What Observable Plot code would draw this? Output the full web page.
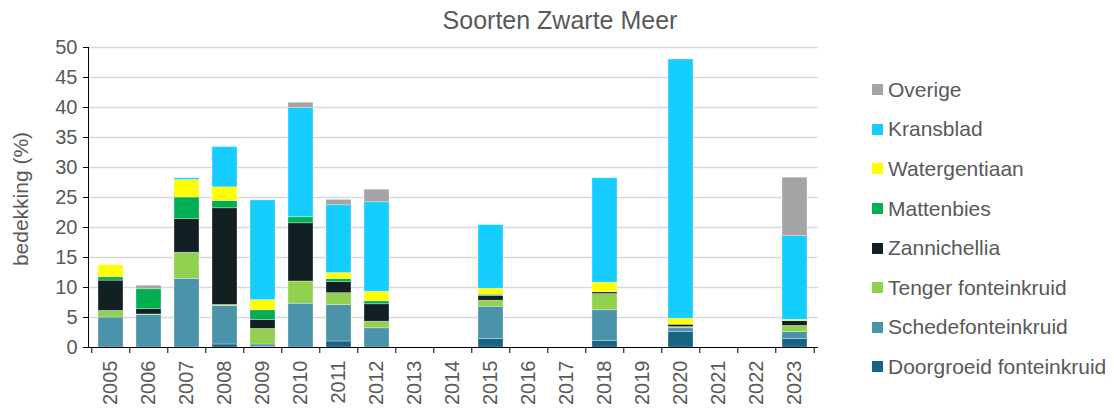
<!DOCTYPE html>
<html>
<head>
<meta charset="utf-8">
<script src="https://cdn.jsdelivr.net/npm/d3@7"></script>
<script src="https://cdn.jsdelivr.net/npm/@observablehq/plot@0.6"></script>
<style>
  body { margin: 0; background: white; font-family: "Liberation Sans", Arial, sans-serif; }
  #title { width: 1114px; height: 36px; line-height: 40px; text-align: center; font-size: 25px; color: #595959; padding-left: 6px; box-sizing: border-box; }
  #wrap { display: flex; flex-direction: row; width: 1114px; height: 373px; }
  #chart { width: 840px; }
  #legend { margin-left: 32px; padding-top: 34px; }
  .item { height: 39.6px; display: flex; align-items: center; font-size: 21px; color: #595959; white-space: nowrap; }
  .sw { width: 11px; height: 11px; margin-right: 5px; flex: none; }
  #ylab { position: absolute; left: 21px; top: 199px; transform: translate(-50%, -50%) rotate(-90deg); font-size: 21px; color: #595959; white-space: nowrap; }
</style>
</head>
<body>
<div id="title">Soorten Zwarte Meer</div>
<div id="wrap">
  <div id="chart"></div>
  <div id="legend"></div>
</div>
<div id="ylab">bedekking (%)</div>
<script>
const years = ["2005","2006","2007","2008","2009","2010","2011","2012","2013","2014","2015","2016","2017","2018","2019","2020","2021","2022","2023"];
const species = ["Doorgroeid fonteinkruid","Schedefonteinkruid","Tenger fonteinkruid","Zannichellia","Mattenbies","Watergentiaan","Kransblad","Overige"];
const colors = ["#176384","#4a93ab","#92d050","#122024","#00b050","#ffff00","#15cdff","#a5a5a5"];
const doorgroeid   = [0,0,0,0.5,0.1,0,1.0,0,0,0,1.4,0,0,1.05,0,2.55,0,0,1.4];
const schede       = [5.0,5.4,11.4,6.4,0.4,7.3,6.05,3.2,0,0,5.4,0,0,5.15,0,0.65,0,0,1.15];
const tenger       = [1.1,0.1,4.4,0.2,2.6,3.7,2.0,1.1,0,0,1.0,0,0,2.7,0,0.2,0,0,1.05];
const zannichellia = [5.05,0.9,5.6,16.1,1.5,9.7,1.85,2.9,0,0,0.8,0,0,0.3,0,0.4,0,0,0.8];
const mattenbies   = [0.55,3.3,3.6,1.2,1.6,1.0,0.5,0.5,0,0,0.2,0,0,0,0,0,0,0,0];
const watergentiaan= [2.0,0,2.9,2.3,1.7,0,1.0,1.6,0,0,1.0,0,0,1.6,0,1.0,0,0,0.2];
const kransblad    = [0,0,0.3,6.7,16.6,18.2,11.3,14.9,0,0,10.6,0,0,17.4,0,43.2,0,0,13.95];
const overige      = [0,0.6,0,0,0,0.9,0.9,2.1,0,0,0,0,0,0,0,0,0,0,9.75];
const yTicks = [0,5,10,15,20,25,30,35,40,45,50];

const series = [doorgroeid, schede, tenger, zannichellia, mattenbies, watergentiaan, kransblad, overige];
const data = [];
species.forEach((s, si) => years.forEach((y, yi) => data.push({year: y, species: s, value: series[si][yi]})));

const W = 840, mL = 88, mR = 22;
const step = (W - mL - mR) / years.length;

const plot = Plot.plot({
  width: W, height: 373, marginTop: 11, marginBottom: 62, marginLeft: mL, marginRight: mR,
  style: {fontFamily: "Liberation Sans, Arial, sans-serif", fontSize: "20px", color: "#595959", background: "white"},
  x: {domain: years, paddingInner: 0.33, paddingOuter: 0.165, label: null},
  y: {domain: [0, 50], label: null},
  color: {domain: species, range: colors},
  marks: [
    Plot.gridY(yTicks.filter(d => d > 0), {stroke: "#d9d9d9", strokeOpacity: 1, strokeWidth: 1.3}),
    Plot.barY(data, {x: "year", y: "value", fill: "species", order: species, stroke: "white", strokeWidth: 0.6, strokeOpacity: 0.5}),
    Plot.axisY({ticks: yTicks, tickSize: 5, tickPadding: 6, fontSize: 20, fill: "#595959", stroke: "black", label: null}),
    Plot.frame({anchor: "left", stroke: "black"}),
    Plot.ruleY([0], {stroke: "black"}),
    Plot.axisX({tickSize: 0, tickRotate: -90, tickPadding: 13, fontSize: 20, fill: "#595959", label: null}),
    Plot.axisX({tickSize: 6, fill: "none", dx: -step / 2, stroke: "black", label: null}),
    Plot.axisX({ticks: [years[years.length - 1]], tickSize: 6, fill: "none", dx: step / 2, stroke: "black", label: null})
  ]
});
document.getElementById("chart").appendChild(plot);

const legend = document.getElementById("legend");
species.slice().reverse().forEach(s => {
  const i = species.indexOf(s);
  const d = document.createElement("div");
  d.className = "item";
  d.innerHTML = `<span class="sw" style="background:${colors[i]}"></span><span>${s}</span>`;
  legend.appendChild(d);
});
</script>
</body>
</html>
